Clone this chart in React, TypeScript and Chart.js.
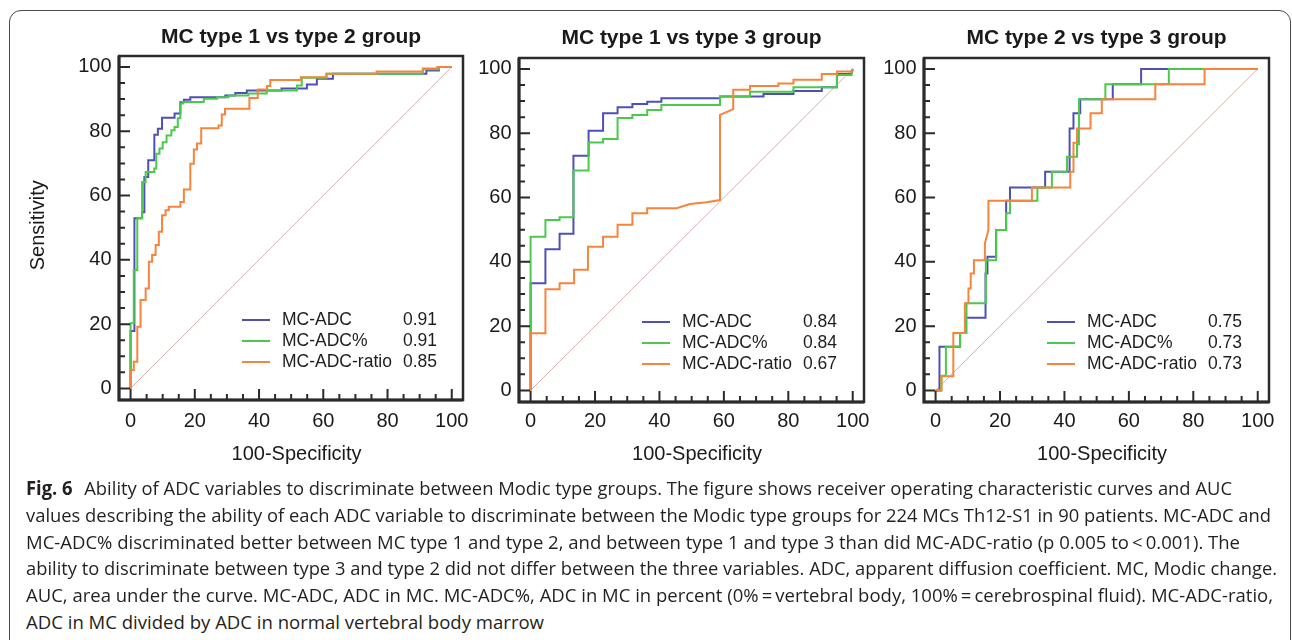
import React, { useEffect, useLayoutEffect, useRef } from "react";
import { Chart, registerables } from "chart.js";

Chart.register(...registerables);

type Pt = [number, number];

const FONT = '"Liberation Sans", Arial, Helvetica, sans-serif';

// ---------- data ----------
const seriesLabels = ["MC-ADC", "MC-ADC%", "MC-ADC-ratio"];
const seriesColors = ["#4f50b6", "#4cc94c", "#f7843c"];
const diagonalColor = "#d9aeaa";
const panelTitles = [
  "MC type 1 vs type 2 group",
  "MC type 1 vs type 3 group",
  "MC type 2 vs type 3 group",
];
const tickValues = [0, 20, 40, 60, 80, 100];
const minorTickStep = 5;
const xAxisTitle = "  100-Specificity";
const yAxisTitle = " Sensitivity";

const aucType1vs2 = [0.91, 0.91, 0.85];
const aucType1vs3 = [0.84, 0.84, 0.67];
const aucType2vs3 = [0.75, 0.73, 0.73];

const diagonal: Pt[] = [[0, 0], [100, 100]];

// Panel 1: MC type 1 vs type 2
const p1Adc: Pt[] = [[0,0],[0,17.9],[1.2,17.9],[1.2,52.9],[3.6,52.9],[3.6,54.8],[4.3,54.8],[4.3,65.8],[5.5,65.8],[5.5,71],[7.4,71],[7.4,78.9],[8.5,78.9],[8.5,80.8],[9.8,80.8],[9.8,84.2],[13.7,84.2],[13.7,85.5],[15.5,85.5],[15.5,89],[16.6,89],[16.6,89.8],[18.6,89.8],[18.6,90.6],[29.5,90.6],[29.5,91.1],[32.6,91.1],[32.6,91.9],[36.2,91.9],[36.2,92.7],[47,92.7],[47,93.3],[54.9,93.3],[54.9,94.5],[58,94.5],[58,96.3],[63,96.3],[63,97.9],[92.1,97.9],[92.1,98.9],[96,98.9],[96,100],[100,100]];
const p1AdcPct: Pt[] = [[0,0],[0,20.3],[1,20.3],[1,36.8],[2.1,36.8],[2.1,52.9],[3.6,52.9],[3.6,64.2],[4.7,64.2],[4.7,67.3],[7.4,67.3],[7.4,68.4],[8,68.4],[8,73],[9,73],[9,74.6],[10,74.6],[10,76.6],[11.2,76.6],[11.2,78.7],[12.7,78.7],[12.7,80.3],[13.7,80.3],[13.7,81.3],[14.7,81.3],[14.7,84],[15.5,84],[15.5,88.6],[16.3,88.6],[16.3,89.1],[22.8,89.1],[22.8,90.1],[26.9,90.1],[26.9,90.6],[30.5,90.6],[30.5,91.1],[36.7,91.1],[36.7,91.7],[42.4,91.7],[42.4,92.7],[51.8,92.7],[51.8,94.2],[53.3,94.2],[53.3,96.6],[61,96.6],[61,97.9],[91,97.9],[91,99.3],[96,99.3],[96,100],[100,100]];
const p1Ratio: Pt[] = [[0,0],[0,5.7],[1,5.7],[1,8.3],[2.1,8.3],[2.1,19.2],[3.1,19.2],[3.1,27.5],[4.7,27.5],[4.7,31.1],[5.7,31.1],[5.7,39.4],[6.7,39.4],[6.7,41.5],[7.8,41.5],[7.8,44.6],[8.8,44.6],[8.8,48.7],[9.8,48.7],[9.8,53.9],[10.9,53.9],[10.9,55.4],[11.9,55.4],[11.9,56.5],[15.5,56.5],[15.5,58],[16.6,58],[16.6,61.9],[18.6,61.9],[18.6,69.9],[19.7,69.9],[19.7,74.3],[20.7,74.3],[20.7,76.2],[22,76.2],[22,80.9],[27.4,80.9],[27.4,81.8],[28.4,81.8],[28.4,85.2],[29.4,85.2],[29.4,87],[37,87],[37,90.3],[39.6,90.3],[39.6,93],[42.5,93],[42.5,94.1],[43.5,94.1],[43.5,95.9],[53,95.9],[53,96.8],[61,96.8],[61,97.9],[76.6,97.9],[76.6,98.6],[91,98.6],[91,99.5],[95.5,99.5],[95.5,100],[100,100]];

// Panel 2: MC type 1 vs type 3
const p2Adc: Pt[] = [[0,0],[0,33.3],[4.6,33.3],[4.6,43.9],[9,43.9],[9,48.7],[13.3,48.7],[13.3,73],[18,73],[18,80.8],[22.5,80.8],[22.5,86.2],[27,86.2],[27,88.1],[31.6,88.1],[31.6,89.1],[36.2,89.1],[36.2,89.8],[40.6,89.8],[40.6,90.9],[58.8,90.9],[58.8,91.4],[72.3,91.4],[72.3,92.2],[81.6,92.2],[81.6,93.1],[90.4,93.1],[90.4,94.3],[95.1,94.3],[95.1,98.4],[99.6,98.4],[100,100]];
const p2AdcPct: Pt[] = [[0,0],[0,47.8],[4.6,47.8],[4.6,53],[9,53],[9,53.9],[13.3,53.9],[13.3,68.4],[18,68.4],[18,77.1],[22.5,77.1],[22.5,78.2],[27,78.2],[27,84.7],[31.6,84.7],[31.6,85.7],[36.2,85.7],[36.2,87.2],[40.6,87.2],[40.6,88.8],[58.8,88.8],[58.8,91.4],[68.1,91.4],[68.1,92.9],[81.6,92.9],[81.6,94.3],[95.1,94.3],[95.1,98.1],[99.6,98.1],[100,100]];
const p2Ratio: Pt[] = [[0,0],[0,17.8],[4.6,17.8],[4.6,31.5],[9,31.5],[9,33.3],[13.5,33.3],[13.5,37.5],[17.8,37.5],[17.8,44.7],[22.5,44.7],[22.5,47.8],[27,47.8],[27,51.5],[31.6,51.5],[31.6,55.1],[36.2,55.1],[36.2,56.7],[45.3,56.7],[49.5,58],[54.6,58.5],[58.8,59.2],[58.8,85.7],[62.9,87.5],[62.9,93.5],[68.1,93.5],[68.1,94.7],[76.9,94.7],[76.9,95.5],[81.6,95.5],[81.6,96.6],[90.4,96.6],[90.4,98.4],[95.1,98.4],[95.1,99.2],[99.6,99.2],[100,100]];

// Panel 3: MC type 2 vs type 3
const p3Adc: Pt[] = [[0,0],[1.2,0],[1.2,13.6],[7.6,13.6],[7.6,17.9],[9.2,17.9],[9.2,22.6],[15.5,22.6],[15.5,36.4],[16.1,36.4],[16.1,41.6],[18.8,41.6],[18.8,49.9],[21.9,49.9],[21.9,59],[23.1,59],[23.1,63.1],[34,63.1],[34,68],[41.6,68],[41.6,81.5],[42.8,81.5],[42.8,86.2],[44.9,86.2],[44.9,90.6],[55,90.6],[55,95.2],[63.8,95.2],[63.8,100],[100,100]];
const p3AdcPct: Pt[] = [[0,0],[1.8,0],[1.8,4.6],[3.2,4.6],[3.2,13.6],[7.6,13.6],[7.6,17.9],[9.6,17.9],[9.6,27.1],[15.6,27.1],[15.6,40.5],[18.8,40.5],[18.8,49.9],[21.9,49.9],[21.9,55.1],[23.1,55.1],[23.1,59],[31.6,59],[31.6,63.1],[36.1,63.1],[36.1,68],[40.8,68],[40.8,72.7],[43.9,72.7],[43.9,76.6],[44.5,76.6],[44.5,90.6],[52.7,90.6],[52.7,95.2],[72.4,95.2],[72.4,100],[100,100]];
const p3Ratio: Pt[] = [[0,0],[1.8,0],[1.8,4.4],[5.5,4.4],[5.5,17.9],[9.1,17.9],[9.1,27.1],[10.2,27.1],[10.2,31.7],[10.9,31.7],[10.9,36.4],[11.9,36.4],[11.9,40.5],[15.3,40.5],[15.3,45.7],[16.4,49.9],[16.4,59],[29.9,59],[29.9,63.1],[41.8,63.1],[41.8,68],[42.8,68],[42.8,77],[43.9,77],[43.9,81.5],[48.1,81.5],[48.1,86.2],[51.6,86.2],[51.6,90.6],[68.2,90.6],[68.2,95.2],[83.5,95.2],[83.5,100],[100,100]];

const captionBold = "Fig. 6";
const captionLines = [
  "Ability of ADC variables to discriminate between Modic type groups. The figure shows receiver operating characteristic curves and AUC",
  "values describing the ability of each ADC variable to discriminate between the Modic type groups for 224 MCs Th12-S1 in 90 patients. MC-ADC and",
  "MC-ADC% discriminated better between MC type 1 and type 2, and between type 1 and type 3 than did MC-ADC-ratio (p 0.005 to\u2009<\u20090.001). The",
  "ability to discriminate between type 3 and type 2 did not differ between the three variables. ADC, apparent diffusion coefficient. MC, Modic change.",
  "AUC, area under the curve. MC-ADC, ADC in MC. MC-ADC%, ADC in MC in percent (0%\u2009=\u2009vertebral body, 100%\u2009=\u2009cerebrospinal fluid). MC-ADC-ratio,",
  "ADC in MC divided by ADC in normal vertebral body marrow",
];

// ---------- layout ----------
const CANVAS_H = 480;
const X_MIN = -3.6, X_MAX = 103.5, Y_MIN = -3.6, Y_MAX = 103.4;

type PanelCfg = {
  title: string;
  series: Pt[][];
  auc: number[];
  left: number;
  width: number;
  frameLeft: number;
  frameTop: number;
  frameRight: number;
  frameBottom: number;
  titleCenter: number;
  xLabelCenter: number;
  showYTitle: boolean;
};

const panels: PanelCfg[] = [
  { title: panelTitles[0], series: [p1Adc, p1AdcPct, p1Ratio], auc: aucType1vs2, left: 20, width: 460, frameLeft: 119, frameTop: 56, frameRight: 463, frameBottom: 400, titleCenter: 37, xLabelCenter: 421, showYTitle: true },
  { title: panelTitles[1], series: [p2Adc, p2AdcPct, p2Ratio], auc: aucType1vs3, left: 465, width: 420, frameLeft: 519, frameTop: 58, frameRight: 864, frameBottom: 402, titleCenter: 38.3, xLabelCenter: 421.7, showYTitle: false },
  { title: panelTitles[2], series: [p3Adc, p3AdcPct, p3Ratio], auc: aucType2vs3, left: 870, width: 420, frameLeft: 924, frameTop: 58, frameRight: 1269, frameBottom: 402, titleCenter: 38.3, xLabelCenter: 421.7, showYTitle: false },
];

const rocPlugin = {
  id: "rocFrame",
  afterDatasetsDraw(chart: any, _args: any, opts: any) {
    const { ctx, chartArea: a } = chart;
    const auc: number[] = opts.auc || [];
    ctx.save();
    ctx.font = `17.5px ${FONT}`;
    ctx.textBaseline = "middle";
    ctx.textAlign = "left";
    seriesLabels.forEach((lab, i) => {
      const y = a.bottom - 80 + 21 * i;
      ctx.strokeStyle = seriesColors[i];
      ctx.lineWidth = 2;
      ctx.beginPath();
      ctx.moveTo(a.left + 123, y);
      ctx.lineTo(a.left + 151, y);
      ctx.stroke();
      ctx.fillStyle = "#1e1e1e";
      ctx.fillText(lab, a.left + 163, y);
      ctx.fillText(auc[i].toFixed(2), a.left + 284, y);
    });
    ctx.restore();
  },
  afterDraw(chart: any) {
    const { ctx, chartArea: a, scales } = chart;
    const xs = scales.x, ys = scales.y;
    ctx.save();
    ctx.strokeStyle = "#2b2b2b";
    ctx.lineWidth = 2.5;
    ctx.strokeRect(a.left, a.top, a.right - a.left, a.bottom - a.top);
    ctx.lineWidth = 3;
    ctx.beginPath();
    ctx.moveTo(a.left, a.top);
    ctx.lineTo(a.left, a.bottom);
    ctx.lineTo(a.right, a.bottom);
    ctx.stroke();
    ctx.lineWidth = 2;
    ctx.beginPath();
    for (let v = 0; v <= 100; v += minorTickStep) {
      const len = tickValues.includes(v) ? 11 : 6;
      const px = xs.getPixelForValue(v);
      ctx.moveTo(px, a.bottom);
      ctx.lineTo(px, a.bottom - len);
      const py = ys.getPixelForValue(v);
      ctx.moveTo(a.left, py);
      ctx.lineTo(a.left + len, py);
    }
    ctx.stroke();
    ctx.restore();
  },
};

function RocPanel({ cfg }: { cfg: PanelCfg }) {
  const ref = useRef<HTMLCanvasElement>(null);
  useEffect(() => {
    const titlePadTop = cfg.titleCenter - 12.6;
    const titlePadBottom = cfg.frameTop - titlePadTop - 25.2;
    const tickFont = { family: FONT, size: 20 };
    const datasets: any[] = cfg.series.map((pts, i) => ({
      label: seriesLabels[i],
      data: pts.map(([x, y]) => ({ x, y })),
      borderColor: seriesColors[i],
      borderWidth: 2,
      pointRadius: 0,
      fill: false,
      tension: 0,
      order: 3 - i,
    }));
    datasets.push({
      label: "reference",
      data: diagonal.map(([x, y]) => ({ x, y })),
      borderColor: diagonalColor,
      borderWidth: 1,
      pointRadius: 0,
      fill: false,
      tension: 0,
      order: 5,
    });
    const chart = new Chart(ref.current as HTMLCanvasElement, {
      type: "line",
      data: { datasets },
      plugins: [rocPlugin as any],
      options: {
        responsive: false,
        animation: false,
        devicePixelRatio: 1,
        events: [],
        layout: { padding: { left: 0, top: 0, bottom: 0, right: cfg.left + cfg.width - cfg.frameRight } },
        plugins: {
          legend: { display: false },
          tooltip: { enabled: false },
          title: {
            display: true,
            text: cfg.title,
            fullSize: false,
            color: "#1a1a1a",
            font: { family: FONT, size: 21, weight: "bold" },
            padding: { top: titlePadTop, bottom: titlePadBottom },
          },
          rocFrame: { auc: cfg.auc },
        } as any,
        scales: {
          x: {
            type: "linear",
            min: X_MIN,
            max: X_MAX,
            grid: { display: false, drawTicks: false },
            border: { display: false },
            ticks: { padding: cfg.xLabelCenter - cfg.frameBottom - 12, font: tickFont, color: "#1a1a1a", maxRotation: 0 },
            title: { display: true, text: xAxisTitle, color: "#1a1a1a", font: { family: FONT, size: 20 }, padding: { top: 0, bottom: 13.5 } },
            afterBuildTicks: (s: any) => { s.ticks = tickValues.map((v) => ({ value: v })); },
            afterFit: (s: any) => { s.height = CANVAS_H - cfg.frameBottom; },
          },
          y: {
            type: "linear",
            min: Y_MIN,
            max: Y_MAX,
            grid: { display: false, drawTicks: false },
            border: { display: false },
            ticks: { padding: 7.5, font: tickFont, color: "#1a1a1a" },
            title: { display: cfg.showYTitle, text: yAxisTitle, color: "#1a1a1a", font: { family: FONT, size: 20 }, padding: { top: 6.5, bottom: 0 } },
            afterBuildTicks: (s: any) => { s.ticks = tickValues.map((v) => ({ value: v })); },
            afterFit: (s: any) => { s.width = cfg.frameLeft - cfg.left; },
          },
        } as any,
      },
    });
    return () => chart.destroy();
  }, []);
  return (
    <canvas
      ref={ref}
      width={cfg.width}
      height={CANVAS_H}
      style={{ position: "absolute", left: cfg.left, top: 0, width: cfg.width, height: CANVAS_H }}
    />
  );
}

const captionLeft = 26;
const captionRight = [1232, 1271, 1240, 1277, 1273, 544];
const captionCenters = [488, 515, 542, 568, 595, 622];

function Caption() {
  const refs = useRef<(HTMLDivElement | null)[]>([]);
  useLayoutEffect(() => {
    const fit = () => {
      refs.current.forEach((el, i) => {
        if (!el) return;
        el.style.transform = "none";
        const w = el.getBoundingClientRect().width;
        if (w > 0) el.style.transform = `scaleX(${(captionRight[i] - captionLeft) / w})`;
      });
    };
    fit();
    const f: any = (document as any).fonts;
    if (f && f.ready) f.ready.then(fit);
  }, []);
  return (
    <>
      {captionLines.map((line, i) => (
        <div
          key={i}
          ref={(el) => { refs.current[i] = el; }}
          style={{
            position: "absolute",
            left: captionLeft,
            top: captionCenters[i] - 13.5,
            height: 27,
            lineHeight: "27px",
            whiteSpace: "nowrap",
            transformOrigin: "0 50%",
            fontFamily: '"Open Sans", "Noto Sans", sans-serif',
            fontSize: 19,
            color: "#231f20",
          }}
        >
          {i === 0 ? (
            <>
              <b>{captionBold}</b>
              <span style={{ marginLeft: 12 }}>{line}</span>
            </>
          ) : (
            line
          )}
        </div>
      ))}
    </>
  );
}

export default function App() {
  return (
    <div
      style={{
        position: "absolute",
        left: 0,
        top: 0,
        width: 1292,
        height: 640,
        overflow: "hidden",
        background: "#ffffff",
      }}
    >
      <div
        style={{
          position: "absolute",
          left: 9,
          top: 10,
          width: 1282,
          height: 700,
          border: "1.5px solid #4a4a4a",
          borderRadius: 12,
          boxSizing: "border-box",
        }}
      />
      {panels.map((p, i) => (
        <RocPanel key={i} cfg={p} />
      ))}
      <Caption />
    </div>
  );
}
